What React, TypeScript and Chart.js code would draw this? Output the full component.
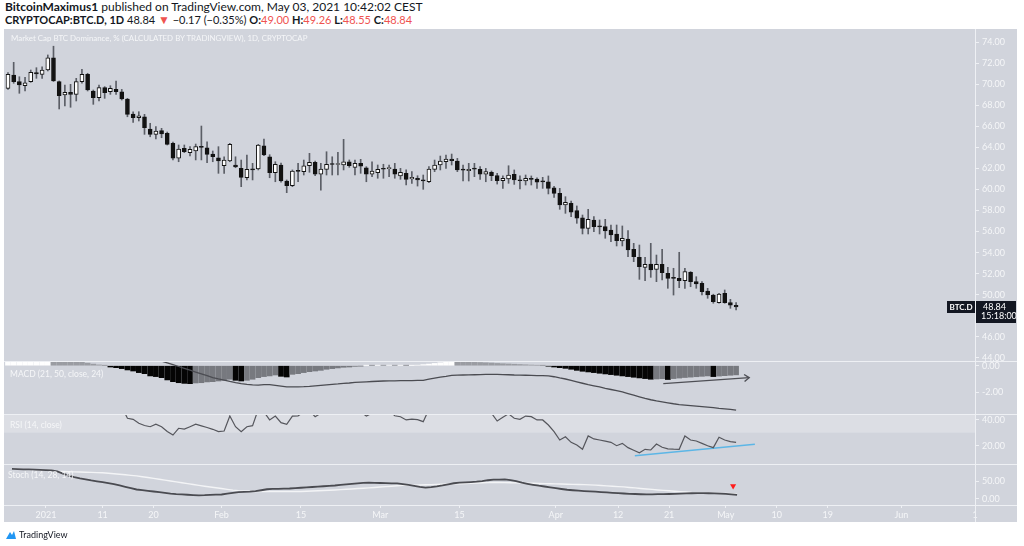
import React, { useEffect, useRef } from 'react';
import { Chart, registerables } from 'chart.js';

Chart.register(...registerables);

// ---------------- DATA ----------------
// Daily candles, 26 Dec 2020 (index 0) ... 3 May 2021 (index 128)
const candleOpen = [
  69.6, 70.87, 70.23, 69.85, 70.23, 71.09, 70.93, 71.34, 72.5, 70.23,
  68.97, 69.22, 69.03, 70.23, 70.93, 69.35, 68.71, 69.66, 69.28, 69.5,
  69.28, 68.59, 67.16, 66.81, 66.9, 65.74, 65.23, 65.58, 65.33, 64.38,
  62.96, 63.9, 63.49, 63.65, 64.1, 63.96, 63.36, 63.01, 62.25, 62.7,
  62.32, 62.0, 61.12, 61.9, 61.94, 64.15, 63.1, 61.59, 62.32, 60.8,
  60.35, 61.78, 61.69, 62.25, 62.57, 61.44, 61.91, 62.41, 62.37, 62.32,
  62.63, 62.1, 62.48, 62.06, 61.44, 61.59, 61.96, 61.98, 61.94, 61.28,
  61.53, 60.99, 61.06, 60.85, 60.74, 61.91, 62.32, 62.63, 62.89, 62.7,
  61.86, 61.78, 61.95, 61.91, 61.46, 61.63, 61.31, 60.83, 60.99, 61.44,
  60.84, 60.8, 60.97, 60.99, 60.74, 60.73, 60.16, 59.63, 58.52, 58.68,
  57.98, 57.31, 56.3, 57.1, 56.47, 56.46, 56.15, 55.77, 55.1, 55.29,
  54.31, 53.55, 52.6, 52.92, 52.41, 52.89, 52.03, 51.57, 51.56, 51.33,
  52.12, 51.24, 51.08, 50.35, 49.97, 49.25, 50.13, 49.25, 49.0,
];
const candleHigh = [
  71.1, 72.07, 70.7, 70.65, 71.34, 71.56, 71.65, 72.77, 73.6, 70.3,
  69.92, 69.98, 70.55, 71.4, 71.03, 69.44, 69.92, 69.76, 69.85, 70.3,
  69.5, 68.65, 67.38, 67.38, 67.13, 66.28, 65.96, 65.8, 65.45, 64.5,
  64.22, 64.22, 64.06, 64.31, 66.02, 64.53, 63.65, 64.06, 63.1, 64.38,
  63.1, 62.79, 63.27, 62.48, 64.28, 64.79, 63.3, 62.63, 62.5, 60.9,
  61.85, 62.48, 62.79, 63.43, 62.7, 62.48, 63.58, 63.1, 63.52, 64.76,
  62.8, 62.79, 62.86, 62.16, 62.63, 62.32, 62.39, 62.32, 62.48, 62.0,
  61.85, 61.69, 61.3, 61.37, 62.16, 62.79, 63.17, 63.27, 63.36, 62.95,
  62.32, 62.48, 62.48, 62.16, 62.0, 61.75, 61.53, 61.28, 62.25, 61.85,
  61.28, 61.37, 61.28, 61.1, 61.15, 61.28, 60.3, 60.1, 59.31, 58.9,
  58.43, 57.57, 58.11, 57.41, 57.1, 57.16, 56.62, 56.62, 56.53, 56.08,
  54.88, 54.72, 53.55, 54.88, 53.77, 54.31, 52.6, 52.51, 54.03, 52.51,
  52.2, 51.71, 51.24, 50.61, 50.05, 50.13, 50.45, 49.56, 49.26,
];
const candleLow = [
  69.5, 70.08, 69.13, 69.35, 70.17, 70.55, 70.55, 71.25, 70.25, 67.64,
  67.92, 67.8, 68.4, 70.08, 69.35, 68.08, 68.4, 68.65, 69.03, 69.03,
  68.49, 66.9, 66.37, 66.5, 65.23, 65.0, 64.79, 64.91, 64.22, 62.8,
  62.63, 63.49, 63.17, 62.8, 62.8, 62.54, 62.63, 61.53, 61.53, 62.63,
  62.06, 60.26, 60.9, 60.9, 61.85, 63.2, 61.11, 60.73, 60.68, 59.69,
  60.26, 60.73, 61.37, 61.63, 61.3, 59.94, 61.37, 61.37, 61.37, 61.85,
  62.1, 61.37, 61.53, 60.73, 61.21, 61.06, 61.06, 61.21, 61.06, 60.96,
  60.42, 60.58, 60.32, 60.01, 60.64, 61.69, 61.85, 62.0, 62.32, 61.69,
  60.8, 60.8, 61.21, 60.96, 60.73, 60.83, 60.51, 60.1, 60.58, 60.48,
  60.04, 60.42, 60.42, 60.1, 60.1, 59.57, 59.25, 58.11, 57.73, 57.41,
  56.78, 55.77, 55.77, 55.99, 55.77, 55.36, 55.04, 54.63, 54.63, 53.61,
  53.14, 51.46, 51.33, 51.65, 51.24, 51.4, 50.61, 49.97, 50.67, 50.61,
  50.76, 50.61, 49.97, 49.66, 49.19, 49.19, 49.19, 48.71, 48.55,
];
const candleClose = [
  70.93, 70.23, 69.92, 70.13, 71.12, 70.96, 71.34, 72.5, 70.3, 68.9,
  69.22, 69.03, 70.23, 70.93, 69.44, 68.71, 69.66, 69.19, 69.6, 69.28,
  68.59, 67.13, 66.81, 67.0, 65.86, 65.23, 65.55, 65.26, 64.28, 62.96,
  63.84, 63.58, 63.81, 64.06, 64.0, 63.33, 63.1, 62.7, 62.79, 64.28,
  62.13, 61.15, 61.91, 61.85, 64.22, 63.27, 61.59, 62.39, 60.8, 60.35,
  61.75, 61.72, 62.25, 62.57, 61.44, 61.94, 62.39, 62.37, 62.41, 62.63,
  62.25, 62.48, 62.22, 61.46, 61.75, 61.91, 61.92, 62.02, 61.46, 61.63,
  60.96, 61.15, 60.9, 60.81, 61.94, 62.32, 62.7, 62.89, 62.73, 61.85,
  61.84, 61.91, 61.93, 61.46, 61.69, 61.31, 60.83, 61.06, 61.37, 60.9,
  60.82, 61.06, 60.95, 60.68, 60.72, 60.1, 59.63, 58.52, 58.78, 57.83,
  57.26, 56.3, 57.16, 56.46, 56.45, 56.05, 55.67, 55.13, 55.36, 54.25,
  53.61, 52.66, 52.89, 52.35, 52.89, 52.09, 51.55, 51.55, 51.33, 52.19,
  51.24, 51.02, 50.29, 49.97, 49.34, 50.07, 49.25, 49.01, 48.84,
];

const macdHist = [
  0.38, 0.4, 0.42, 0.44, 0.46, 0.48, 0.5, 0.52,
  0.5, 0.47, 0.44, 0.4, 0.34, 0.27, 0.19, 0.12, 0.06, 0.01,
  -0.1, -0.15, -0.22, -0.32, -0.4, -0.52, -0.6, -0.77, -0.82, -0.9, -1.07, -1.2, -1.28, -1.33, -1.35,
  -1.3, -1.28, -1.22, -1.2, -1.15, -1.1, -1.02,
  -1.1, -1.15,
  -1.1, -1.02, -0.9, -0.82, -0.77, -0.7,
  -0.8, -0.85,
  -0.65, -0.6, -0.52, -0.45, -0.4, -0.35, -0.27, -0.22, -0.17, -0.12, -0.1, -0.05, -0.03,
  0.02, 0.01, 0.03, 0.02, 0.04, 0.02, 0.03, 0.01, 0.02, 0.04,
  0.08, 0.12, 0.17, 0.22, 0.27, 0.32,
  0.3, 0.28, 0.27, 0.25, 0.24, 0.22, 0.2, 0.17, 0.15, 0.13, 0.11, 0.09, 0.07, 0.05, 0.03, 0.01,
  -0.04, -0.1, -0.15, -0.2, -0.27, -0.35, -0.42, -0.47, -0.52, -0.57, -0.62, -0.67, -0.72, -0.77, -0.82, -0.87, -0.92, -0.97, -1.02,
  -1.0, -0.98, -1.04, -0.97, -0.93, -0.89, -0.86, -0.83, -0.8, -0.77, -0.82, -0.78, -0.75, -0.72, -0.69,
];
const macdLine = [
  1.35, 1.38, 1.4, 1.42, 1.45, 1.47, 1.5, 1.55, 1.55, 1.5,
  1.45, 1.42, 1.4, 1.4, 1.36, 1.3, 1.27, 1.22, 1.15, 1.1,
  1.0, 0.92, 0.85, 0.78, 0.7, 0.62, 0.5,
  0.35, 0.22, 0.08, -0.06, -0.2, -0.34, -0.48, -0.62, -0.75, -0.89,
  -0.99, -1.08, -1.18, -1.27, -1.35, -1.41, -1.44, -1.46, -1.42, -1.43, -1.48, -1.54, -1.6,
  -1.6, -1.59, -1.58, -1.56, -1.52, -1.48, -1.44, -1.4, -1.37, -1.33, -1.3, -1.26, -1.23, -1.21, -1.19, -1.17,
  -1.15, -1.14, -1.14, -1.13, -1.12, -1.12, -1.11, -1.1, -1.01, -0.93, -0.86, -0.8, -0.73, -0.71, -0.7, -0.69, -0.68, -0.67, -0.66,
  -0.65, -0.66, -0.67, -0.68, -0.7, -0.71, -0.72, -0.73, -0.74, -0.75, -0.77, -0.83, -0.92, -1.0, -1.1, -1.21, -1.32,
  -1.42, -1.51, -1.6, -1.7, -1.79, -1.88, -1.97, -2.1, -2.22, -2.34,
  -2.46, -2.56, -2.65, -2.72, -2.79, -2.86, -2.92, -2.96, -3.0, -3.04,
  -3.08, -3.12, -3.16, -3.21, -3.25, -3.29, -3.34,
];
const rsiValues = [
  58, 55, 51, 53, 57, 55, 58, 64, 50, 45, 48, 47, 53, 56, 48, 46, 51, 49, 50, 52, 50,
  41.1, 40.3, 37.2, 35.5, 34.6, 36.5, 34.6, 31, 28.2, 33.4, 32.8, 34.6, 36.5, 35.2, 34, 32.6, 30.8, 31.3, 42.8, 34.6, 30.8, 34.6, 35.4,
  48, 46, 39.8, 42.8, 37.7, 36.5, 42.8, 43, 46, 47, 42.3, 45, 47, 47, 47, 48, 45, 47, 46, 42.8, 45, 46, 46.5, 47, 43, 42.3, 39.8, 40.5, 40, 38.5,
  48, 52, 55, 56, 55, 48, 48, 49, 49, 46, 47, 45, 39, 41.8, 44.5, 41.1, 40.3, 42.8, 42.3, 39.8, 39.8, 35.9, 30.8, 24.4, 26.9, 22.6, 20.5, 17.2,
  27.5, 25.2, 24.4, 23.5, 22.6, 20, 21.8, 18.5, 16.5, 14.6, 17.2, 16.7, 21.3, 18.8, 17.5, 17.3, 17.2, 27.5, 24.4, 23.6, 21.8, 20, 18.5, 26.5,
  24.4, 23.1, 22.6,
];
const stochK = [
  86.8, 86.3, 85.7, 85.2, 84.6, 84, 83.3, 82.5, 79.5, 73,
  67, 63, 59.5, 56.5, 53.2, 50.5, 48, 45.3, 42.6, 38.5,
  34.5, 30.5, 26.8, 24.8, 22.9, 21, 18.9, 16.8, 14.7, 13.3,
  12.5, 11.5, 10.5, 9.8, 10.2, 11, 11.8, 12.2, 14.5, 17,
  19, 19.7, 20.5, 22, 24.6, 27.5, 28.4, 28.8, 29.2, 29.7,
  30.8, 31.9, 33, 34.1, 35.2, 36.3, 37.4, 38.5, 40, 41.5,
  43, 44.5, 46, 46.5, 46.2, 45.7, 45.2, 44.9, 44.4, 42.3,
  40, 37.5, 34.6, 32.5, 34, 36, 38.7, 42, 45, 46.7,
  47.6, 48.5, 49.6, 51.5, 53.8, 55.4, 55.8, 56, 54, 51,
  46.5, 43.5, 40.5, 37.8, 35.5, 33, 30.5, 28.2, 26, 24.6,
  23.4, 22.2, 21.2, 20.3, 19.3, 18.2, 17.2, 16.1, 15.1, 14.3,
  13.6, 12.9, 12.4, 12.7, 13, 13.3, 13.6, 14, 14.6, 15.2,
  15.8, 16.4, 16.2, 15.8, 15.4, 15, 14, 12.7, 11.3,
];
const stochD = [
  86.5, 86, 85.4, 84.9, 84.3, 83.7, 83, 82.2, 79.7,
  79.2, 78.7, 78.2, 77.7, 77.2, 76.7, 76.1, 75.6,
  74.3, 72.7, 71.2, 69.6, 68.1, 66.6,
  64.1, 61.6, 59.1, 56.6, 54.2, 51.7,
  49.1, 46.5, 43.9, 41.3, 38.7,
  36.2, 34, 31.8, 29.5, 27.2, 25,
  23.4, 22.6, 21.8, 21.1,
  21, 20.9, 20.8, 20.8, 20.8, 20.9, 20.9, 21,
  21.5, 22.3, 23.1, 23.8, 24.6, 25.4,
  26.4, 27.4, 28.4, 29.5, 30.5, 31.5,
  32.7, 33.9, 35.1, 36.4, 37.6, 38.8,
  39.2, 39.6, 40.1, 40.5, 41,
  41.5, 42, 42.6, 43.2, 43.7, 44.3,
  44.9, 45.6, 46.3, 46.9,
  47.3, 47, 46.7, 46.3, 46, 45.7,
  45.3, 44.9, 44.4, 44, 43.6, 43.1,
  42.7, 42.2, 41.8, 41.3, 40.9, 40.4,
  39.5, 38.5, 37.4, 36.4, 35.3, 34.3,
  32.8, 31.4, 29.9, 28.4, 27,
  25.5, 24.3, 23.1, 21.8, 20.6, 19.4,
  18.3, 17.7, 17.2, 16.6, 16.1, 15.5, 15, 14.4, 13.9,
];

const priceTicks = [44, 46, 48, 50, 52, 54, 56, 58, 60, 62, 64, 66, 68, 70, 72, 74];
const macdTicks = [0, -2];
const rsiTicks = [40, 20];
const stochTicks = [50, 0];
const timeTickPos = [6, 16, 25, 37, 51, 65, 79, 96, 107, 116, 126, 135, 144, 157, 170];
const timeTickLabels = ['2021', '11', '20', 'Feb', '15', 'Mar', '15', 'Apr', '12', '21', 'May', '10', '19', 'Jun', '1'];

const rsiTrendX = [110.2, 131.3];
const rsiTrendY = [12.3, 21.1];
const macdArrowX = [115.2, 130.3];
const macdArrowY = [-1.35, -0.9];
const stochMarkX = [127.3];
const stochMarkY = [36.8];

const symbolShort = 'BTC.D';
const barCountdown = '15:18:00';

// ---------------- STYLE ----------------
const BG = '#d1d4dc';
const SEP = '#eef0f4';
const TXT = '#f5f6f8';
const RED = '#ef5350';
const FONT = 'Lato, "Open Sans", sans-serif';
const X_MIN = -0.7;
const X_MAX = 170;
const CW = 1013;
const AXIS_W = 42;

const idx = candleClose.map((_, i) => i);

function xHidden(): any {
  return { type: 'linear', min: X_MIN, max: X_MAX, offset: false, display: false };
}

function yAxis(min: number, max: number, ticks: number[]): any {
  return {
    type: 'linear',
    position: 'right',
    min,
    max,
    afterBuildTicks: (s: any) => {
      s.ticks = ticks.map((v) => ({ value: v }));
    },
    afterFit: (s: any) => {
      s.width = AXIS_W;
      s.paddingTop = 0;
      s.paddingBottom = 0;
    },
    grid: { drawOnChartArea: false, drawTicks: true, tickLength: 4, color: SEP, lineWidth: 1 },
    border: { display: false },
    ticks: {
      color: TXT,
      font: { family: FONT, size: 9 },
      padding: 3,
      callback: (v: any) => Number(v).toFixed(2),
    },
  };
}

const baseOptions: any = {
  responsive: false,
  animation: false,
  events: [],
  layout: { padding: 0 },
  plugins: { legend: { display: false }, tooltip: { enabled: false } },
};

const priceBoxPlugin = {
  id: 'priceBox',
  afterDraw(chart: any) {
    const ctx = chart.ctx;
    const last = candleClose.length - 1;
    const y = Math.round(chart.scales.y.getPixelForValue(candleClose[last]));
    const right = chart.chartArea.right;
    ctx.save();
    ctx.fillStyle = '#131722';
    ctx.fillRect(right - 28, y - 6, 28, 12);
    ctx.fillRect(right + 1, y - 6, 40, 22);
    ctx.fillStyle = '#ffffff';
    ctx.font = `bold 8px ${FONT}`;
    ctx.textBaseline = 'middle';
    ctx.textAlign = 'center';
    ctx.fillText(symbolShort, right - 14, y);
    ctx.textAlign = 'left';
    ctx.font = `9px ${FONT}`;
    ctx.fillText(candleClose[last].toFixed(2), right + 8, y);
    ctx.fillText(barCountdown, right + 6, y + 9);
    ctx.restore();
  },
};

const arrowPlugin = {
  id: 'arrowHead',
  afterDatasetsDraw(chart: any) {
    const xs = chart.scales.x;
    const ys = chart.scales.y;
    const x0 = xs.getPixelForValue(macdArrowX[0]);
    const y0 = ys.getPixelForValue(macdArrowY[0]);
    const x1 = xs.getPixelForValue(macdArrowX[1]);
    const y1 = ys.getPixelForValue(macdArrowY[1]);
    const a = Math.atan2(y1 - y0, x1 - x0);
    const ctx = chart.ctx;
    ctx.save();
    ctx.strokeStyle = '#4e4f55';
    ctx.lineWidth = 1.4;
    ctx.beginPath();
    ctx.moveTo(x1 + 6 * Math.cos(a + Math.PI * 0.8), y1 + 6 * Math.sin(a + Math.PI * 0.8));
    ctx.lineTo(x1, y1);
    ctx.lineTo(x1 + 6 * Math.cos(a - Math.PI * 0.8), y1 + 6 * Math.sin(a - Math.PI * 0.8));
    ctx.stroke();
    ctx.restore();
  },
};

const rsiBandPlugin = {
  id: 'rsiBand',
  beforeDatasetsDraw(chart: any) {
    const { left, right, top } = chart.chartArea;
    const y30 = chart.scales.y.getPixelForValue(30);
    const ctx = chart.ctx;
    ctx.save();
    ctx.fillStyle = '#dcdee4';
    ctx.fillRect(left, top, right - left, y30 - top);
    ctx.restore();
  },
};

function histColor(i: number): string {
  const v = macdHist[i];
  const p = i > 0 ? macdHist[i - 1] : v;
  if (v >= 0) return v >= p ? '#ffffff' : '#9a9ca2';
  return v < p ? '#050505' : '#77797f';
}

export default function App() {
  const mainRef = useRef<HTMLCanvasElement>(null);
  const macdRef = useRef<HTMLCanvasElement>(null);
  const rsiRef = useRef<HTMLCanvasElement>(null);
  const stochRef = useRef<HTMLCanvasElement>(null);

  useEffect(() => {
    Chart.defaults.font.family = FONT;
    const charts: any[] = [];

    charts.push(
      new Chart(mainRef.current as HTMLCanvasElement, {
        type: 'bar',
        data: {
          datasets: [
            {
              type: 'bar',
              data: idx.map((i) => ({ x: i, y: [candleLow[i], candleHigh[i]] })) as any,
              backgroundColor: '#5b5e66',
              barThickness: 1,
              grouped: false,
              order: 2,
              clip: 0,
            } as any,
            {
              type: 'bar',
              data: idx.map((i) => ({ x: i, y: [candleOpen[i], candleClose[i]] })) as any,
              backgroundColor: idx.map((i) => (candleClose[i] >= candleOpen[i] ? '#ffffff' : '#121212')),
              borderColor: '#121212',
              borderWidth: 1,
              borderSkipped: false,
              barThickness: 4,
              minBarLength: 1,
              grouped: false,
              order: 1,
              clip: 0,
            } as any,
          ],
        },
        options: {
          ...baseOptions,
          scales: { x: xHidden(), y: yAxis(43.706, 75.235, priceTicks) },
        },
        plugins: [priceBoxPlugin],
      } as any)
    );

    charts.push(
      new Chart(macdRef.current as HTMLCanvasElement, {
        type: 'bar',
        data: {
          datasets: [
            {
              type: 'bar',
              data: idx.map((i) => ({ x: i, y: macdHist[i] })) as any,
              backgroundColor: idx.map((i) => histColor(i)),
              barThickness: 5,
              grouped: false,
              order: 3,
              clip: 0,
            } as any,
            {
              type: 'line',
              data: idx.map((i) => ({ x: i, y: macdLine[i] })) as any,
              borderColor: '#4b4c52',
              borderWidth: 1.3,
              pointRadius: 0,
              order: 2,
            } as any,
            {
              type: 'line',
              data: macdArrowX.map((x, k) => ({ x, y: macdArrowY[k] })) as any,
              borderColor: '#4e4f55',
              borderWidth: 1.4,
              pointRadius: 0,
              order: 1,
            } as any,
          ],
        },
        options: {
          ...baseOptions,
          scales: { x: xHidden(), y: yAxis(-3.632, 0.353, macdTicks) },
        },
        plugins: [arrowPlugin],
      } as any)
    );

    charts.push(
      new Chart(rsiRef.current as HTMLCanvasElement, {
        type: 'line',
        data: {
          datasets: [
            {
              data: idx.map((i) => ({ x: i, y: rsiValues[i] })) as any,
              borderColor: '#55565c',
              borderWidth: 1.2,
              pointRadius: 0,
            },
            {
              data: rsiTrendX.map((x, k) => ({ x, y: rsiTrendY[k] })) as any,
              borderColor: '#5cb6e6',
              borderWidth: 1.4,
              pointRadius: 0,
            },
          ],
        },
        options: {
          ...baseOptions,
          scales: { x: xHidden(), y: yAxis(5.92, 44.38, rsiTicks) },
        },
        plugins: [rsiBandPlugin],
      } as any)
    );

    charts.push(
      new Chart(stochRef.current as HTMLCanvasElement, {
        type: 'line',
        data: {
          datasets: [
            {
              data: idx.map((i) => ({ x: i, y: stochD[i] })) as any,
              borderColor: '#f3f4f6',
              borderWidth: 1.4,
              pointRadius: 0,
              order: 3,
            },
            {
              data: idx.map((i) => ({ x: i, y: stochK[i] })) as any,
              borderColor: '#4a4b51',
              borderWidth: 1.8,
              pointRadius: 0,
              order: 2,
            },
            {
              data: stochMarkX.map((x, k) => ({ x, y: stochMarkY[k] })) as any,
              showLine: false,
              pointStyle: 'triangle',
              rotation: 180,
              pointRadius: 3.5,
              backgroundColor: '#ff1c1c',
              borderColor: '#ff1c1c',
              borderWidth: 0,
              order: 1,
            },
          ],
        },
        options: {
          ...baseOptions,
          scales: {
            x: {
              type: 'linear',
              min: X_MIN,
              max: X_MAX,
              offset: false,
              position: 'bottom',
              afterBuildTicks: (s: any) => {
                s.ticks = timeTickPos.map((v) => ({ value: v }));
              },
              afterFit: (s: any) => {
                s.height = 17;
                s.paddingLeft = 0;
                s.paddingRight = 0;
              },
              grid: { drawOnChartArea: false, drawTicks: true, tickLength: 3, color: SEP },
              border: { display: false },
              ticks: {
                autoSkip: false,
                maxRotation: 0,
                color: TXT,
                padding: 2,
                font: { family: FONT, size: 9 },
                callback: (_v: any, k: number) => timeTickLabels[k],
              },
            },
            y: yAxis(-18.42, 89.47, stochTicks),
          },
        },
      } as any)
    );

    return () => charts.forEach((c) => c.destroy());
  }, []);

  const last = candleClose.length - 1;
  const change = candleClose[last] - candleClose[last - 1];
  const pct = (change / candleClose[last - 1]) * 100;
  const fmt = (v: number) => v.toFixed(2).replace('-', '\u2212');

  const abs = (l: number, t: number, extra: any = {}): any => ({ position: 'absolute', left: l, top: t, ...extra });
  const panelLabel: any = { color: TXT, fontSize: 8.5, fontFamily: FONT, whiteSpace: 'nowrap', lineHeight: '10px' };

  return (
    <div style={{ position: 'fixed', left: 0, top: 0, width: 1024, height: 546, background: '#ffffff', overflow: 'hidden', fontFamily: FONT }}>
      <div style={abs(5, 0, { fontSize: 12, color: '#131722', whiteSpace: 'nowrap', lineHeight: '14px' })}>
        <b>BitcoinMaximus1</b> published on TradingView.com, May 03, 2021 10:42:02 CEST
      </div>
      <div style={abs(5, 13, { fontSize: 11, color: '#131722', whiteSpace: 'nowrap', lineHeight: '13px' })}>
        <b>CRYPTOCAP:BTC.D, 1D</b> {candleClose[last].toFixed(2)} <span style={{ color: RED, fontSize: 12 }}>▼</span> {fmt(change)} ({fmt(pct)}%){' '}
        <b>O:</b><span style={{ color: RED }}>{candleOpen[last].toFixed(2)}</span>{' '}
        <b>H:</b><span style={{ color: RED }}>{candleHigh[last].toFixed(2)}</span>{' '}
        <b>L:</b><span style={{ color: RED }}>{candleLow[last].toFixed(2)}</span>{' '}
        <b>C:</b><span style={{ color: RED }}>{candleClose[last].toFixed(2)}</span>
      </div>

      <div style={abs(4, 29, { width: 1013, height: 493, background: BG })} />

      <canvas ref={mainRef} width={CW} height={332} style={abs(4, 29)} />
      <canvas ref={macdRef} width={CW} height={53} style={abs(4, 361)} />
      <canvas ref={rsiRef} width={CW} height={50} style={abs(4, 414)} />
      <canvas ref={stochRef} width={CW} height={58} style={abs(4, 464)} />

      <div style={abs(4, 361, { width: 1013, height: 1, background: SEP })} />
      <div style={abs(4, 414, { width: 1013, height: 1, background: SEP })} />
      <div style={abs(4, 464, { width: 1013, height: 1, background: SEP })} />
      <div style={abs(4, 505, { width: 1013, height: 1, background: SEP })} />
      <div style={abs(975, 29, { width: 1, height: 493, background: SEP })} />

      <div style={abs(11, 33, { ...panelLabel, fontSize: 7.9 })}>Market Cap BTC Dominance, % (CALCULATED BY TRADINGVIEW), 1D, CRYPTOCAP</div>
      <div style={abs(10, 369, panelLabel)}>MACD (21, 50, close, 24)</div>
      <div style={abs(10, 420, panelLabel)}>RSI (14, close)</div>
      <div style={abs(8, 470, panelLabel)}>Stoch (14, 28, 14)</div>

      <div style={abs(5, 529, { display: 'flex', alignItems: 'center', gap: 2 })}>
        <svg width="12" height="10" viewBox="0 0 12 10">
          <path d="M1 9 L5 2 L7 5 L9 1 L11 9 Z" fill="#2196f3" />
        </svg>
        <span style={{ fontSize: 9, color: '#131722', fontFamily: FONT }}>TradingView</span>
      </div>
    </div>
  );
}
